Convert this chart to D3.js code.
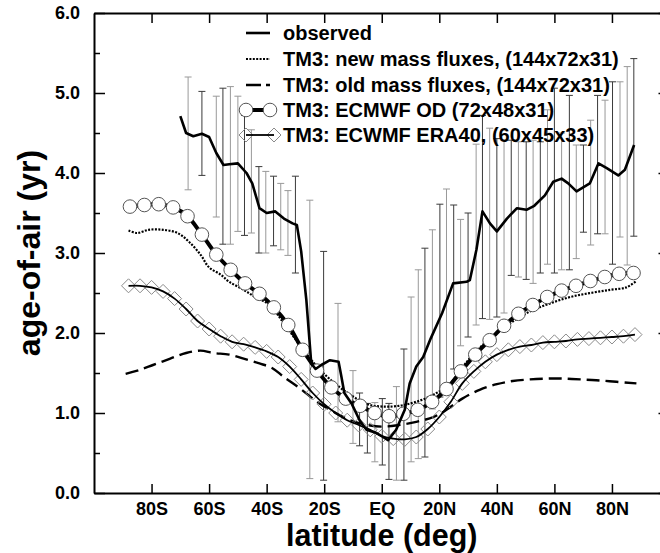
<!DOCTYPE html>
<html><head><meta charset="utf-8">
<script src="https://cdn.jsdelivr.net/npm/d3@7"></script>
<style>
body{margin:0;background:#fff;}
svg{display:block;font-family:"Liberation Sans",Arial,Helvetica,sans-serif;font-weight:bold;}
</style></head>
<body><svg id="c" width="660" height="553"></svg>
<script>
// ---------------- data ----------------
const xTickValues = [-80,-60,-40,-20,0,20,40,60,80];
const xTickLabels = ["80S","60S","40S","20S","EQ","20N","40N","60N","80N"];
const yTickValues = [0,1,2,3,4,5,6];
const yMinorTicks = [0.5,1.5,2.5,3.5,4.5,5.5];

const seriesNames = ["observed","TM3: new mass fluxes, (144x72x31)","TM3: old mass fluxes, (144x72x31)","TM3: ECMWF OD (72x48x31)","TM3: ECWMF ERA40, (60x45x33)"];

const obsLat = [-70,-68,-65.5,-62.5,-60,-57.5,-55,-53,-50,-47,-45,-42.5,-40,-37,-34,-31,-29.5,-28,-26.2,-24.5,-23,-21,-18,-15,-14,-13,-10.5,-7.7,-5.3,-1.8,2.2,5,8,9.7,12,14.4,17,21,24.8,29.5,30.6,32.9,35,37.6,40,43.5,47,50.3,53,56.7,59.6,62.5,64.8,67.7,72.3,75.3,78.2,82.2,84.5,87.7];
const obsVal = [4.71,4.50,4.46,4.49,4.45,4.25,4.10,4.11,4.12,4.00,3.87,3.56,3.50,3.52,3.43,3.37,3.35,3.02,2.41,1.62,1.55,1.60,1.66,1.64,1.45,1.25,1.12,0.91,0.79,0.75,0.66,0.79,1.04,1.37,1.58,1.70,1.93,2.25,2.62,2.64,2.66,3.04,3.52,3.37,3.27,3.43,3.56,3.54,3.59,3.72,3.89,3.93,3.87,3.77,3.87,4.12,4.06,3.97,4.04,4.35];

// error bars of the observations: latitude, low, high, dark(1)/grey(0)
const barLat  = [-67.3,-62.5,-57.5,-55.2,-52.6,-50,-47.7,-45.3,-42.7,-40.3,-37.6,-35.1,-32.6,-30,-25,-20.2,-15.2,-10,-7.7,-5,-2.4,0.2,2.5,5.1,7.7,10.2,12.7,15,17.6,20.2,22.5,25,27.4,30,32.8,35,37.5,40,42.5,45,47.5,50.2,52.6,55.1,57.6,60,62.5,65.2,67.6,70.1,72.6,75,77.6,80.2,82.8,85.3,87.6];
const barLow  = [3.79,3.97,3.45,3.11,3.11,3.27,3.22,3.25,3.00,3.00,3.09,3.04,2.97,2.75,0.18,0.16,0.89,0.62,0.59,0.50,0.39,0.35,0.17,0.16,0.16,0.39,0.43,0.45,1.05,1.20,1.30,1.55,1.84,1.95,2.10,2.18,2.17,2.20,2.25,2.72,2.70,2.67,2.62,2.75,2.86,2.75,2.79,2.79,2.93,3.26,3.10,3.24,3.24,2.86,3.20,2.85,3.21];
const barHigh = [5.20,5.02,4.96,5.06,5.08,4.96,4.72,4.54,4.08,4.02,3.96,3.87,3.78,3.96,3.66,3.02,2.37,1.53,1.25,1.12,1.13,1.18,1.12,1.33,1.80,2.45,2.79,3.06,3.29,3.61,3.80,3.60,3.42,3.50,4.36,4.72,4.56,4.43,4.41,4.41,4.39,4.39,4.41,4.39,4.79,5.06,4.50,4.97,4.35,4.35,4.66,4.97,4.91,5.14,5.14,5.33,5.43];
const barDark = [0,1,0,1,0,0,1,0,1,0,1,0,0,1,0,1,0,0,1,1,0,1,1,0,1,0,0,1,0,1,0,1,0,1,0,1,0,1,0,1,0,1,0,1,0,1,0,1,0,1,0,1,0,1,0,0,1];

const newLat = [-88,-85,-81,-76,-71,-67,-63,-60,-56,-53,-48,-44,-39,-34,-28.5,-23,-17,-11,-5,0.5,6,12,18,23.5,30.5,37.5,44.5,51.5,58.5,65.5,72.5,79.5,85,88.5];
const newVal = [3.28,3.25,3.29,3.29,3.25,3.14,2.98,2.82,2.73,2.64,2.54,2.45,2.35,2.12,1.85,1.60,1.39,1.23,1.11,1.08,1.09,1.14,1.23,1.36,1.68,1.93,2.12,2.27,2.37,2.45,2.50,2.54,2.57,2.65];

const oldLat = [-89,-84,-79.5,-73.5,-68,-63,-58.5,-53,-48,-42.5,-38,-34,-28.5,-22.5,-17,-11,-5,0.5,6,12,18,22.5,28,34,40,45.5,51.5,57.5,63,69,74.5,81.5,88.5];
const oldVal = [1.49,1.54,1.60,1.68,1.75,1.78,1.75,1.73,1.68,1.62,1.56,1.45,1.31,1.14,1.02,0.91,0.85,0.83,0.85,0.89,0.95,1.04,1.18,1.29,1.36,1.40,1.42,1.43,1.43,1.42,1.41,1.39,1.37];

const odLat = [-87.5,-82.5,-77.5,-72.5,-67.5,-62.5,-57.5,-52.5,-47.5,-42.5,-37.5,-32.5,-27.5,-22.5,-17.5,-12.5,-7.5,-2.5,2.5,7.5,12.5,17.5,22.5,27.5,32.5,37.5,42.5,47.5,52.5,57.5,62.5,67.5,72.5,77.5,82.5,87.5];
const odVal = [3.58,3.60,3.61,3.57,3.46,3.23,2.98,2.79,2.62,2.49,2.32,2.10,1.79,1.53,1.32,1.18,1.09,1.00,0.96,0.99,1.04,1.14,1.30,1.52,1.73,1.91,2.09,2.24,2.35,2.45,2.53,2.59,2.65,2.70,2.74,2.75];

const eraLat = [-88,-84,-80,-76,-72,-68,-64,-60,-56,-52,-48,-44,-40,-36,-32,-28,-24,-20,-16,-12,-8,-4,0,4,8,12,16,20,24,28,32,36,40,44,48,52,56,60,64,68,72,76,80,84,88];
const eraVal = [2.59,2.59,2.57,2.52,2.43,2.30,2.15,2.05,1.96,1.89,1.86,1.82,1.77,1.70,1.58,1.42,1.25,1.11,1.00,0.91,0.85,0.79,0.71,0.68,0.67,0.70,0.80,0.95,1.14,1.37,1.52,1.64,1.73,1.79,1.83,1.85,1.88,1.89,1.90,1.92,1.93,1.94,1.95,1.96,1.98];

// ---------------- drawing ----------------
const svg = d3.select("#c");
const L=94, R=669.5, T=13, B=493;
const x = d3.scaleLinear().domain([-100,100]).range([L,R]);
const y = d3.scaleLinear().domain([0,6]).range([B,T]);

// error bars
const bars = barLat.map((d,i)=>({lat:d,lo:barLow[i],hi:barHigh[i],dark:barDark[i]}));
const gb = svg.append("g");
bars.forEach(b=>{
  const c = b.dark ? "#3a3a3a" : "#999";
  const g = gb.append("g").attr("stroke",c).attr("stroke-width",1);
  g.append("line").attr("x1",x(b.lat)).attr("x2",x(b.lat)).attr("y1",y(b.lo)).attr("y2",y(b.hi));
  g.append("line").attr("x1",x(b.lat)-3.5).attr("x2",x(b.lat)+3.5).attr("y1",y(b.hi)).attr("y2",y(b.hi));
  g.append("line").attr("x1",x(b.lat)-3.5).attr("x2",x(b.lat)+3.5).attr("y1",y(b.lo)).attr("y2",y(b.lo));
});

const smooth = d3.line().x(d=>x(d[0])).y(d=>y(d[1])).curve(d3.curveCatmullRom.alpha(0.5));
const straight = d3.line().x(d=>x(d[0])).y(d=>y(d[1]));
const zip = (a,b)=>a.map((v,i)=>[v,b[i]]);

// old mass fluxes (dashed)
svg.append("path").attr("d",smooth(zip(oldLat,oldVal))).attr("fill","none")
  .attr("stroke","#000").attr("stroke-width",2.4).attr("stroke-dasharray","13,6");
// new mass fluxes (dotted)
svg.append("path").attr("d",smooth(zip(newLat,newVal))).attr("fill","none")
  .attr("stroke","#000").attr("stroke-width",2.2).attr("stroke-dasharray","2,1.4");
// ERA40 line + diamonds
const dia = s=>`M0,${-s}L${s},0L0,${s}L${-s},0Z`;
svg.append("g").selectAll("path").data(zip(eraLat,eraVal)).join("path")
  .attr("d",dia(7)).attr("transform",d=>`translate(${x(d[0])},${y(d[1])})`)
  .attr("fill","none").attr("stroke","#8a8a8a").attr("stroke-width",1);
svg.append("path").attr("d",smooth(zip(eraLat,eraVal))).attr("fill","none")
  .attr("stroke","#000").attr("stroke-width",1.8);
// OD line + circles
svg.append("path").attr("d",smooth(zip(odLat,odVal))).attr("fill","none")
  .attr("stroke","#000").attr("stroke-width",4);
svg.append("g").selectAll("circle").data(zip(odLat,odVal)).join("circle")
  .attr("cx",d=>x(d[0])).attr("cy",d=>y(d[1])).attr("r",6.8)
  .attr("fill","#fff").attr("stroke","#555").attr("stroke-width",1);
// observed
svg.append("path").attr("d",straight(zip(obsLat,obsVal))).attr("fill","none")
  .attr("stroke","#000").attr("stroke-width",2.6).attr("stroke-linejoin","round");

// axes
const fmtX = d=>xTickLabels[xTickValues.indexOf(d)];
const ax = (g)=>{g.selectAll(".domain").attr("stroke-width",2);g.selectAll(".tick line").attr("stroke-width",1.5);};
const lab = g=>g.selectAll("text").attr("font-size",18).attr("font-weight","bold").attr("font-family","Liberation Sans, Arial, sans-serif").attr("fill","#000");
svg.append("g").attr("transform",`translate(0,${B})`)
  .call(d3.axisBottom(x).tickValues(xTickValues).tickSize(-9).tickSizeOuter(0).tickPadding(9).tickFormat(fmtX))
  .call(ax).call(lab);
svg.append("g").attr("transform",`translate(0,${T})`)
  .call(d3.axisTop(x).tickValues(xTickValues).tickSize(-10).tickSizeOuter(0).tickFormat(""))
  .call(ax);
svg.append("g").attr("transform",`translate(${L},0)`)
  .call(d3.axisLeft(y).tickValues(yTickValues).tickSize(-11).tickSizeOuter(0).tickPadding(14).tickFormat(d3.format(".1f")))
  .call(ax).call(lab);
svg.append("g").attr("transform",`translate(${L},0)`)
  .call(d3.axisLeft(y).tickValues(yMinorTicks).tickSize(-6).tickSizeOuter(0).tickFormat(""))
  .call(g=>g.select(".domain").remove()).call(ax);
svg.append("g").attr("transform",`translate(${R},0)`)
  .call(d3.axisRight(y).tickValues(yTickValues).tickSize(-11).tickSizeOuter(0).tickFormat(""))
  .call(ax);
svg.append("g").attr("transform",`translate(${R},0)`)
  .call(d3.axisRight(y).tickValues(yMinorTicks).tickSize(-6).tickSizeOuter(0).tickFormat(""))
  .call(g=>g.select(".domain").remove()).call(ax);

// axis titles
svg.append("text").attr("x",x(0)).attr("y",546).attr("text-anchor","middle")
  .attr("font-size",30.5).text("latitude (deg)");
svg.append("text").attr("transform",`translate(40,${(T+B)/2}) rotate(-90)`).attr("text-anchor","middle")
  .attr("font-size",32).text("age-of-air (yr)");

// legend
const lg = svg.append("g");
const rowY = [33,59,85,110,135];
const lx1=246, lx2=270, tx=283;
seriesNames.forEach((n,i)=>{
  lg.append("text").attr("x",tx).attr("y",rowY[i]).attr("dy","0.36em").attr("font-size",20).text(n);
});
lg.append("line").attr("x1",lx1).attr("x2",lx2).attr("y1",rowY[0]).attr("y2",rowY[0]).attr("stroke","#000").attr("stroke-width",2.6);
lg.append("line").attr("x1",lx1).attr("x2",lx2).attr("y1",rowY[1]).attr("y2",rowY[1]).attr("stroke","#000").attr("stroke-width",2.2).attr("stroke-dasharray","2,1.4");
lg.append("line").attr("x1",lx1).attr("x2",lx2).attr("y1",rowY[2]).attr("y2",rowY[2]).attr("stroke","#000").attr("stroke-width",2.4).attr("stroke-dasharray","15,5");
lg.append("line").attr("x1",lx1).attr("x2",lx2).attr("y1",rowY[3]).attr("y2",rowY[3]).attr("stroke","#000").attr("stroke-width",4);
[lx1,lx2].forEach(cx=>lg.append("circle").attr("cx",cx).attr("cy",rowY[3]).attr("r",6.8).attr("fill","#fff").attr("stroke","#555"));
[lx1,lx2+4].forEach(cx=>lg.append("path").attr("d",dia(7)).attr("transform",`translate(${cx},${rowY[4]})`).attr("fill","none").attr("stroke","#8a8a8a"));
lg.append("line").attr("x1",lx1).attr("x2",lx2+4).attr("y1",rowY[4]).attr("y2",rowY[4]).attr("stroke","#000").attr("stroke-width",1.8);
</script></body></html>
